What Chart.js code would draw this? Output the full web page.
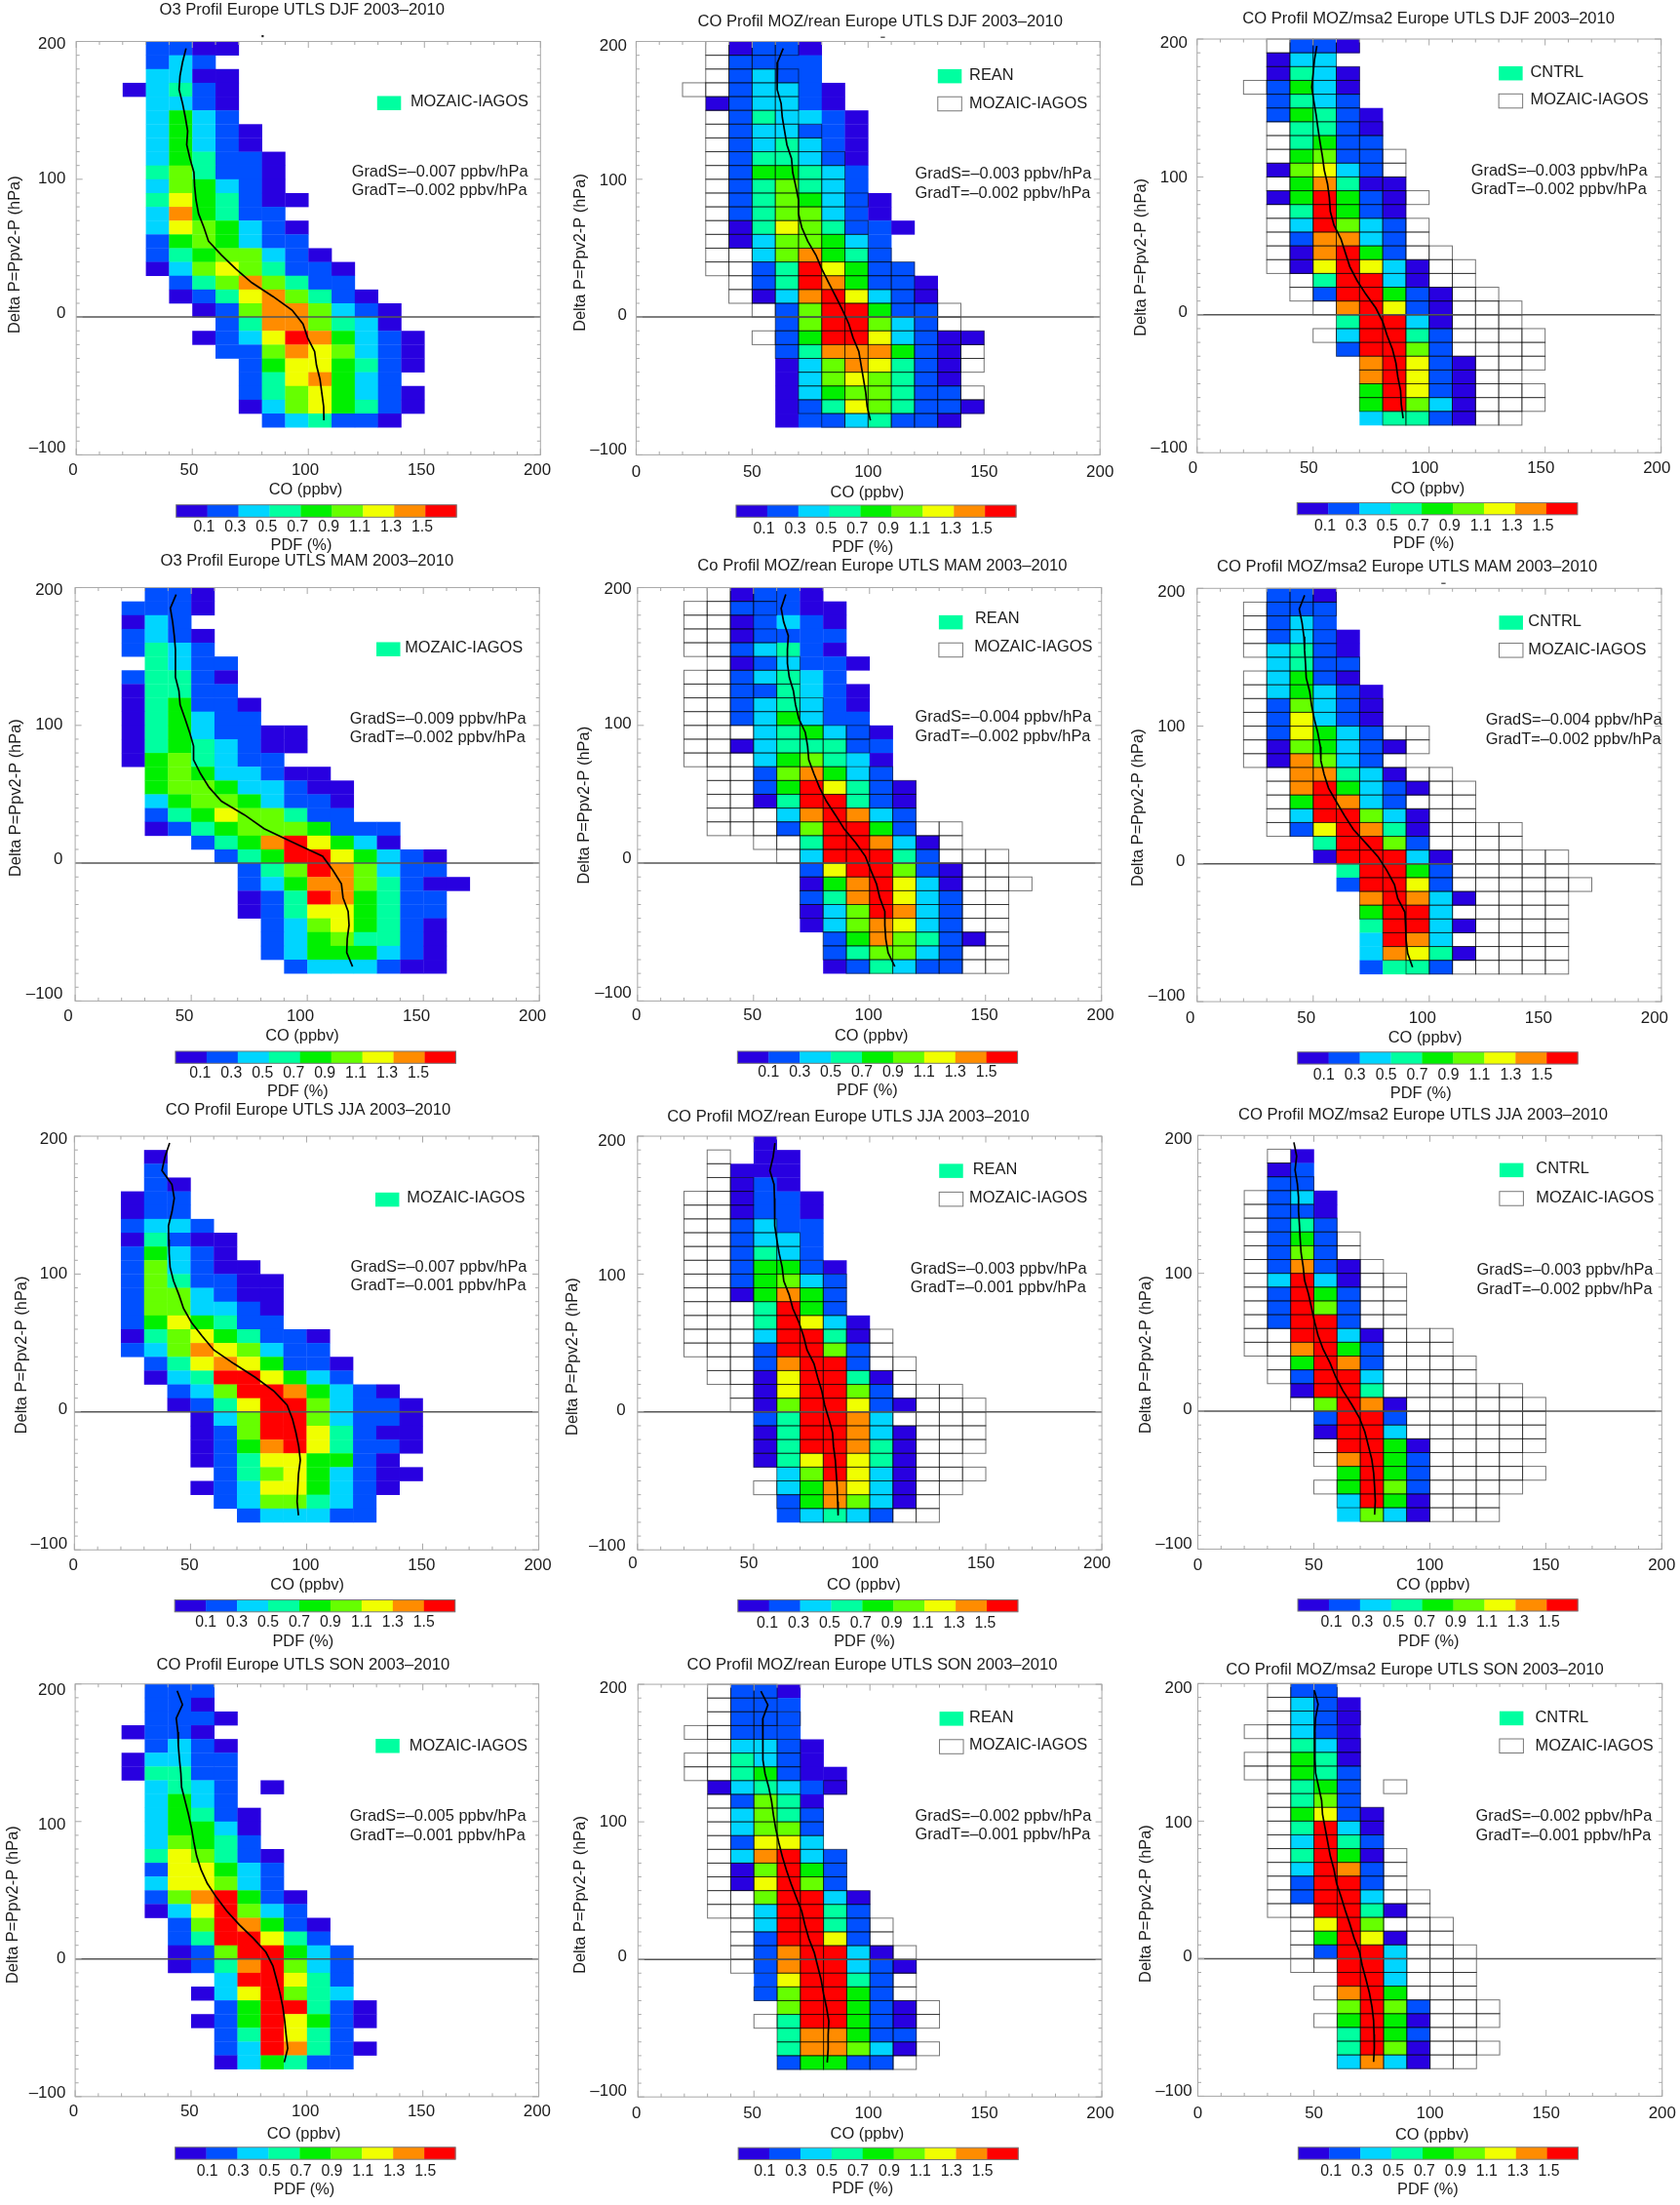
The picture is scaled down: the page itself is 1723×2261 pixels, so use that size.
<!DOCTYPE html>
<html>
<head>
<meta charset="utf-8">
<title>CO profiles Europe UTLS</title>
<script src="https://cdn.jsdelivr.net/npm/chart.js@4"></script>
<style>
  html, body { margin: 0; padding: 0; background: #fff; }
  #page { position: relative; width: 1723px; height: 2261px; overflow: hidden; }
  canvas { position: absolute; }
</style>
</head>
<body>
<div id="page"></div>
<script>
// Lower edge of each row is top - 10 hPa. First char of a row string is the 20-30 ppbv bin.
const rowTops = [200,190,180,170,160,150,140,130,120,110,100,90,80,70,60,50,40,30,20,10,0,-10,-20,-30,-40,-50,-60,-70];
const binLefts = [20,30,40,50,60,70,80,90,100,110,120,130,140,150,160];
const curveLevels = [195,185,175,165,155,145,135,125,115,105,95,85,75,65,55,45,35,25,15,5,-5,-15,-25,-35,-45,-55,-65,-75];

// Cell digit: colour class 1..9 of the PDF colour bar, '.' = no cell
const djfObsRows = [".2211",".232",".3311","13421",".3321",".3532",".35321",".35321",".354221",".464221",".365321",".4754211",".385422",".3765321",".2565322",".24566321",".136764221","..24686422","..124786421","...126886321","....24886431","...1237985321","....226876321",".....25775421",".....2478532",".....24675321",".....13675421","......234221"];
const djfReanRows = ["..1221","..2222","..2322","..23321",".123321","..243321","..233221","..234321","..244321","..255432","..246432","..2465321","..2466321","..14764221","..1366532","...368542","...2497522","...24985221","...13897321","....2699522","....2699632","....259973211","....24888521","....13687421","....13676421","....13566422","....124764221","....12234221"];
const djfMsaRows = ["..221",".133",".1431",".2531",".2432",".25421","..4421","..4522","..5622",".16732","..58411",".159521","..49521","..39632","..28832","..18952","..179731","...49931","...299521","....89721","....49931","....39942","....29962",".....89721",".....89721",".....59721",".....59631",".....34421"];
const mamObsRows = [".221","2221","132","2321","2432",".4322","24421","14422","145221","145322","14532211","14543211","1564322",".56533211",".566533211",".356653221",".245766422",".12456665222","...245897531","....2459975321",".....246986322",".....2358864211",".....124985422",".....124775422","......23675421","......23564421","......23555321",".......2333211"];
const mamReanRows = ["..1221","..22211","..12321","..12222","..23421","..123221","..23432","..224321","..234321","..235322","...345321","..1344422","...356431","...268532","...2597421","...1499421","....389832","....269952",".....499831",".....399942",".....2799621",".....1589731",".....2489732",".....1369832",".....1368732","......2586421","......246632","......124322"];
const mamMsaRows = [".221",".222",".232",".2321",".3421",".3422",".3521",".35321",".26321",".27321",".27532",".165321",".18632","..88431","..895321","..59832","..399631","..279841","...49962","...199931","....49952","....29972",".....89831",".....5993",".....49931",".....3983",".....38741",".....2442"];
const jjaObsRows = ["",".1",".2",".21","122","122","2332","14211","25321","263211","2642211","2663211","2663321","2575422","146754221","236876322",".247875221",".134997532","..2369985321","..12479963221","...1369963221","...1269974211","...1258974221","...124775521","....246753211","...123775321","....2366432",".....233322"];
const jjaReanRows = ["...1","...11","..111","..121","..1221","..1221","..2322","..2332","..2432","..25521","..25632","..15852","...4952","...49731","...39941","...29962","...28992","...179941","...179962","...1699721","...249983","...1499831","...1499841","...1479741","....369731","....358731","....258631","....23432"];
const jjaMsaRows = ["","..1",".12",".22",".231",".221",".242",".252",".262",".2821",".3931",".2952",".2962",".2992","..9931","..8952","..5982","..2993","..1994","...6981","...2992","...1993","....9951","....8952","....5952","....5962","....3951","....3631"];
const sonObsRows = [".222",".221",".2221","1221",".2321","13322","14422",".3432.1",".3532",".35421",".35531",".36542",".476421",".277532",".377632",".2689521",".1379632","..2698521","..2499742","..12699532","..12489632","....399742","...1379643","....2599421","...12597521","....249742","....2398421","....135422"];
const sonReanRows = ["..221","..222","..222","..222","..3321","..4321","..45211",".134321","..2641","..3642","..3662","..2773","..38932","..16952","..17962","...69931","...39942","...39942","...29972","...289931","...2899321","...279942","...269952","....699521","....499521","....488522","....488631","....25522"];
const sonMsaRows = ["..22","..321","..321","..321","..431","..541","..542","..452","..462","..5721","..4931","..3942","..4951","..3982","..2992","..2993","...9941","...796","...5971","...2993","....993","....993","....895","....6962","....5951","....4952","....4961","....3831"];

// Mean CO (ppbv) at curveLevels
const djfObsCurve = [47.3,45.8,44.7,44.3,45.8,47,48,47.6,49,50.7,51,51.6,52.7,55,57,62.6,68.7,75.6,84.7,93,97.7,99.7,102.7,103.5,105,105.8,106.6,106.7];
const djfReanCurve = [63.4,61,60.8,60.8,62.5,63,64,65,67,67.5,68.8,70,70,71.4,74,77.5,80,83,86,89,91.7,93.5,96,97,98,99,99.6,101];
const djfMsaCurve = [51.6,50.6,50,49.4,50.3,51.3,52.1,53,54,54.8,56.2,57,57.4,59,62,63.9,65.8,68.9,72.7,77,80,81.9,84.2,85.7,86.5,87.7,88,88.8];
const mamObsCurve = [43.5,41,42,42.7,43.2,43.2,43.2,44.7,45.2,47.3,49.3,51,51,54,57.7,63,73,81.4,94,106.6,111,114.7,115.4,117.6,118,117.2,117,119.5];
const mamReanCurve = [63.9,61.9,63,65,64.6,64.6,65.4,67.2,68.1,69.5,72.3,73.3,73.8,76,78.4,81.4,85.3,89,94,98.2,100.5,103,104.4,106.6,106.6,107,108,110.9];
const mamMsaCurve = [46.3,44,45.2,46,46.3,46.7,47,48.5,49.3,50.5,52,53.1,53.3,54.7,56.6,60,63.5,67.3,72.7,78,81.8,85,86.4,89.5,89.8,90,90.7,92.8];
const jjaObsCurve = [41,39,37.7,42,43,42,40.5,40.6,40.8,41.2,42.7,45,47,50.4,55,60,68.7,78,86,91.6,93.9,95.4,96.6,97.3,96.5,96.2,95.9,96.5];
const jjaReanCurve = [59.2,58.4,57,58.8,59,59,59.2,60,61,62.3,63,65.3,66.9,69.5,71.5,73,76,77.6,79.4,80.6,82.4,84,84.4,85.2,85.6,86,86.2,86.4];
const jjaMsaCurve = [41.4,42.6,41.9,42.9,43.4,43.4,43.8,44.1,44.5,45.4,46,47.7,49,50.3,51.8,54,57,59.4,62.5,66.3,69.7,72,73.5,75,75.8,76.2,76.5,76.2];
const sonObsCurve = [44,46.3,43.6,44.3,44.5,45,45.6,45.9,47.4,48.9,50.2,51.2,52.4,54.3,57,60.9,65.4,70.8,76.9,82.3,85.3,86.9,88.4,89.6,90.4,91,91.7,90.2];
const sonReanCurve = [53,56,53.8,53.8,53.8,54,54.8,56.4,57.6,58.4,59.4,60.7,62.2,64,66,68.3,70.6,72,73.7,76,77.5,79,80,81.3,82.3,82,82,81.6];
const sonMsaCurve = [50.2,51.8,50.7,50.4,50.4,50.5,50.7,52,53.3,53.7,54.8,55.9,57,58.6,59.7,61.7,63.5,65.5,67.3,69.6,70.8,72.4,73.9,75,75.7,75.9,76,75.7];

const panelTitles = [
  "O3 Profil Europe UTLS DJF 2003–2010", "CO Profil MOZ/rean Europe UTLS DJF 2003–2010", "CO Profil MOZ/msa2 Europe UTLS DJF 2003–2010",
  "O3 Profil Europe UTLS MAM 2003–2010", "Co Profil MOZ/rean Europe UTLS MAM 2003–2010", "CO Profil MOZ/msa2 Europe UTLS MAM 2003–2010",
  "CO Profil Europe UTLS JJA 2003–2010", "CO Profil MOZ/rean Europe UTLS JJA 2003–2010", "CO Profil MOZ/msa2 Europe UTLS JJA 2003–2010",
  "CO Profil Europe UTLS SON 2003–2010", "CO Profil MOZ/rean Europe UTLS SON 2003–2010", "CO Profil MOZ/msa2 Europe UTLS SON 2003–2010"
];
const gradS = ["–0.007","–0.003","–0.003","–0.009","–0.004","–0.004","–0.007","–0.003","–0.003","–0.005","–0.002","–0.002"];
const gradT = ["–0.002","–0.002","–0.002","–0.002","–0.002","–0.002","–0.001","–0.001","–0.002","–0.001","–0.001","–0.001"];
const xTickValues = [0,50,100,150,200];
const yTickValues = [200,100,0,-100];
const pdfTickLabels = ["0.1","0.3","0.5","0.7","0.9","1.1","1.3","1.5"];
const pdfColors = ["#2800e0","#0050ff","#00d5ff","#00ffa0","#00f000","#66ff00","#f0ff00","#ff8c00","#ff0000"];

const cellRows = [djfObsRows,djfReanRows,djfMsaRows,mamObsRows,mamReanRows,mamMsaRows,jjaObsRows,jjaReanRows,jjaMsaRows,sonObsRows,sonReanRows,sonMsaRows];
const curves = [djfObsCurve,djfReanCurve,djfMsaCurve,mamObsCurve,mamReanCurve,mamMsaCurve,jjaObsCurve,jjaReanCurve,jjaMsaCurve,sonObsCurve,sonReanCurve,sonMsaCurve];
const modelNames = [null,"REAN","CNTRL"];

// Panel layout as measured, all inner numbers get multiplied by S below
const S = 1.0905;
const panelBoxes = [
  {ox:0,oy:0,plot:[71.7,39,508.3,427.7],title:[284,10],yTitle:[14,239.5],xTitle:[287.5,460.7],pdf:[283.3,512.7],bar:[165.7,429.3,474.7,486.3],barY:495.7,barDx:-3,xTickY:442.3,xTickDx:-3,yTickR:61.7,yTickDy:-3.7,swatch:[354.7,90.3],name:[386,96],grad:[330.7,161.7,179.3],speck:[246,33,2,2]},
  {ox:575,oy:0,plot:[71,39,507.3,427.7],title:[300.5,21],yTitle:[18.7,237.5],xTitle:[288.3,463.3],pdf:[284,514.7],bar:[165,428.3,475,486.3],barY:497.3,barDx:-3,xTickY:444,xTickDx:0,yTickR:62.3,yTickDy:-1.7,swatch:[354.7,65],name:[384.3,70.7],swatch2:91,moz:[384.3,97.3],grad:[333.3,163.3,181.7],speck:[301,34.5,4,1]},
  {ox:1150,oy:0,plot:[71.3,36.7,507.7,425.7],title:[289,18],yTitle:[19,242],xTitle:[288.3,460],pdf:[284.3,511.3],bar:[165.3,429,472.7,484],barY:494.7,barDx:-3,xTickY:440.7,xTickDx:-4,yTickR:62.3,yTickDy:-2,swatch:[355,62.3],name:[384.7,68.3],swatch2:88.3,moz:[384.7,94],grad:[329,161,178.3]},
  {ox:0,oy:560,plot:[70.7,39,507.3,427.7],title:[288.7,14],yTitle:[14.7,236.7],xTitle:[284.3,460.7],pdf:[280,512.7],bar:[165,428.7,475,486.3],barY:495.7,barDx:-6,xTickY:442.3,xTickDx:-6.5,yTickR:59,yTickDy:-3.5,swatch:[354,90.3],name:[380.7,96],grad:[329,162.7,180.3]},
  {ox:575,oy:560,plot:[72.3,39,508.7,427.7],title:[302.5,18.7],yTitle:[22.7,243.7],xTitle:[292.3,460.7],pdf:[288.3,512.3],bar:[166.3,429.7,475,486.3],barY:494.7,barDx:0,xTickY:441.3,xTickDx:-1,yTickR:66.7,yTickDy:-4.2,swatch:[355.7,65],name:[389.7,68.3],swatch2:91,moz:[389,95],grad:[333.3,161,179.3]},
  {ox:1150,oy:560,plot:[71.3,39.7,508,428.3],title:[268.8,20],yTitle:[15.7,246],xTitle:[285.7,462.7],pdf:[281.7,514.7],bar:[165.7,429.3,475.7,487],barY:497.3,barDx:-4.5,xTickY:444.3,xTickDx:-6.5,yTickR:60,yTickDy:-2.5,swatch:[355.3,65.3],name:[382.7,70.7],swatch2:91.3,moz:[382.7,97.3],grad:[342.7,163.3,181.7],speck:[301,34.5,4,1]},
  {ox:0,oy:1125,plot:[70,36.7,506.7,425.7],title:[289.7,12],yTitle:[20.7,242.5],xTitle:[289,459.3],pdf:[285,511.7],bar:[164.3,428,472.7,484],barY:494,barDx:0,xTickY:440.7,xTickDx:-1,yTickR:63.3,yTickDy:-2.7,swatch:[353,89.7],name:[382.7,95],grad:[329.7,160,177.3]},
  {ox:575,oy:1125,plot:[72.3,36.7,509,425.7],title:[270.5,18.3],yTitle:[11.7,244],xTitle:[285,459.3],pdf:[285.7,511.7],bar:[166.7,430,472.7,484],barY:494.7,barDx:-1.5,xTickY:439,xTickDx:-4.5,yTickR:61,yTickDy:-1,swatch:[356,62.7],name:[387.7,68.7],swatch2:89.3,moz:[384.3,95],grad:[329,161.7,179.3]},
  {ox:1150,oy:1125,plot:[72,36,508.3,425],title:[283.8,16.7],yTitle:[23.3,242.3],xTitle:[293.3,459.3],pdf:[289,511.7],bar:[166,429.3,472,483.3],barY:493.7,barDx:2.3,xTickY:440.7,xTickDx:0,yTickR:66.7,yTickDy:-2,swatch:[355.7,62],name:[390,67.7],swatch2:88.7,moz:[390,95],grad:[334.3,162.3,181]},
  {ox:0,oy:1690,plot:[70.7,33.7,506.7,421.7],title:[285,15.7],yTitle:[12,241.3],xTitle:[285.7,457.3],pdf:[286,509.3],bar:[164.7,428.3,469.3,480.7],barY:492.3,barDx:1,xTickY:436,xTickDx:-1.5,yTickR:61.7,yTickDy:0,swatch:[353.3,85.3],name:[385,91.7],grad:[329,158,176.7]},
  {ox:575,oy:1690,plot:[72.7,34,509,422],title:[293,15.7],yTitle:[19,232],xTitle:[288.3,457.3],pdf:[284,508.3],bar:[167,430.3,469.7,481],barY:492,barDx:-4.3,xTickY:437.3,xTickDx:-1.5,yTickR:62.3,yTickDy:-2.3,swatch:[356.3,59.7],name:[384.3,65.3],swatch2:86,moz:[384.3,91],grad:[333.3,158,175.7]},
  {ox:1150,oy:1690,plot:[72,33.3,508.7,421.3],title:[276,21],yTitle:[23.3,240.3],xTitle:[292.3,458.3],pdf:[288.3,509.3],bar:[166.3,429.7,469.3,480.7],barY:492,barDx:1.7,xTickY:438,xTickDx:0,yTickR:66.7,yTickDy:-1.5,swatch:[355.7,59.3],name:[389.3,65.3],swatch2:85.3,moz:[389.3,91.7],grad:[333.3,158,176.7]}
];
panelBoxes.forEach((box) => {
  Object.keys(box).forEach((k) => {
    if (k === "ox" || k === "oy") return;
    box[k] = Array.isArray(box[k]) ? box[k].map((v) => v * S) : box[k] * S;
  });
});

const FONT = '"Liberation Sans", Arial, sans-serif';
const TEXT_COLOR = "#1c1c1c";
const CANVAS_W = 573, CANVAS_H = 572;

// Turn the row strings into {x, y, level} cells, x = left edge and y = top edge of the cell
function rowsToCells(rows) {
  const cells = [];
  rows.forEach((row, r) => {
    [...row].forEach((ch, b) => {
      if (ch !== ".") cells.push({ x: binLefts[b], y: rowTops[r], level: +ch });
    });
  });
  return cells;
}

function text(ctx, str, x, y, size, align) {
  ctx.font = size + "px " + FONT;
  ctx.fillStyle = TEXT_COLOR;
  ctx.textAlign = align || "left";
  ctx.textBaseline = "middle";
  ctx.fillText(str, x, y);
}

// Cells, footprint grid and zero line go under the mean curve
const cellPlugin = {
  id: "cells",
  beforeDatasetsDraw(chart) {
    const { ctx, scales: { x, y } } = chart;
    chart.data.datasets[0].data.forEach((c) => {
      const x0 = x.getPixelForValue(c.x), x1 = x.getPixelForValue(c.x + 10);
      const y0 = y.getPixelForValue(c.y), y1 = y.getPixelForValue(c.y - 10);
      ctx.fillStyle = pdfColors[c.level - 1];
      // small overlap so the antialiased seams stay faint
      ctx.fillRect(x0, y0, x1 - x0 + 0.3, y1 - y0 + 0.3);
    });
    ctx.strokeStyle = "rgba(0,0,0,0.55)";
    ctx.lineWidth = 1;
    chart.data.datasets[1].data.forEach((c) => {
      const x0 = x.getPixelForValue(c.x), x1 = x.getPixelForValue(c.x + 10);
      const y0 = y.getPixelForValue(c.y), y1 = y.getPixelForValue(c.y - 10);
      ctx.strokeRect(x0, y0, x1 - x0, y1 - y0);
    });
    ctx.strokeStyle = "#555";
    ctx.lineWidth = 1.5;
    ctx.beginPath();
    ctx.moveTo(x.left, y.getPixelForValue(0));
    ctx.lineTo(x.right, y.getPixelForValue(0));
    ctx.stroke();
  }
};

// IDL style frame with inward ticks, plus all the panel text, legend and colour bar
const framePlugin = {
  id: "frame",
  afterDraw(chart, args, opts) {
    const { ctx, scales: { x, y } } = chart;
    const box = opts.box;
    ctx.save();

    ctx.strokeStyle = "#a8a8a8";
    ctx.lineWidth = 1;
    ctx.strokeRect(x.left, y.top, x.right - x.left, y.bottom - y.top);
    ctx.beginPath();
    x.ticks.forEach((t) => {
      const px = x.getPixelForValue(t.value);
      const len = t.value % 50 === 0 ? 6.5 : 3.5;
      ctx.moveTo(px, y.top); ctx.lineTo(px, y.top + len);
      ctx.moveTo(px, y.bottom); ctx.lineTo(px, y.bottom - len);
    });
    y.ticks.forEach((t) => {
      const py = y.getPixelForValue(t.value);
      const len = t.value % 100 === 0 ? 6.5 : 3.5;
      ctx.moveTo(x.left, py); ctx.lineTo(x.left + len, py);
      ctx.moveTo(x.right, py); ctx.lineTo(x.right - len, py);
    });
    ctx.stroke();

    xTickValues.forEach((v) => text(ctx, String(v), x.getPixelForValue(v) + box.xTickDx, box.xTickY, 16.9, "center"));
    yTickValues.forEach((v) => {
      const label = v < 0 ? "–" + (-v) : String(v);
      // the printed labels drift slightly against the ticks, about 3 px per 100 hPa
      text(ctx, label, box.yTickR, y.getPixelForValue(v) + box.yTickDy + 3.2 * v / 100, 16.9, "right");
    });

    text(ctx, opts.title, box.title[0], box.title[1], 16.6, "center");
    text(ctx, "CO (ppbv)", box.xTitle[0], box.xTitle[1], 16.4, "center");
    ctx.save();
    ctx.translate(box.yTitle[0], box.yTitle[1]);
    ctx.rotate(-Math.PI / 2);
    text(ctx, "Delta P=Ppv2-P (hPa)", 0, 0, 16.4, "center");
    ctx.restore();

    // legend
    ctx.fillStyle = pdfColors[3];
    ctx.fillRect(box.swatch[0], box.swatch[1], 24.5, 14.5);
    text(ctx, opts.name, box.name[0], box.name[1], 16.4);
    if (box.moz) {
      ctx.strokeStyle = "#777";
      ctx.strokeRect(box.swatch[0], box.swatch2, 24.5, 14.5);
      text(ctx, "MOZAIC-IAGOS", box.moz[0], box.moz[1], 16.4);
    }
    text(ctx, "GradS=" + opts.gradS + " ppbv/hPa", box.grad[0], box.grad[1], 16.4);
    text(ctx, "GradT=" + opts.gradT + " ppbv/hPa", box.grad[0], box.grad[2], 16.4);

    // colour bar
    const [bl, br, bt, bb] = box.bar;
    const bw = (br - bl) / pdfColors.length;
    pdfColors.forEach((col, i) => {
      ctx.fillStyle = col;
      ctx.fillRect(bl + i * bw, bt, bw + 0.3, bb - bt);
    });
    ctx.strokeStyle = "#777";
    ctx.strokeRect(bl, bt, br - bl, bb - bt);
    pdfTickLabels.forEach((lab, i) => text(ctx, lab, bl + (i + 1) * bw + box.barDx, box.barY, 15.8, "center"));
    text(ctx, "PDF (%)", box.pdf[0], box.pdf[1], 16.4, "center");

    if (box.speck) {
      ctx.fillStyle = "#222";
      ctx.fillRect(box.speck[0], box.speck[1], box.speck[2], box.speck[3]);
    }
    ctx.restore();
  }
};

const page = document.getElementById("page");
panelBoxes.forEach((box, i) => {
  const canvas = document.createElement("canvas");
  canvas.style.left = box.ox + "px";
  canvas.style.top = box.oy + "px";
  canvas.style.width = CANVAS_W + "px";
  canvas.style.height = CANVAS_H + "px";
  canvas.width = CANVAS_W;
  canvas.height = CANVAS_H;
  page.appendChild(canvas);

  const kind = i % 3; // 0 = observations only, 1 = reanalysis, 2 = model
  const obsRows = cellRows[i - kind];
  const [l, t, r, b] = box.plot;

  new Chart(canvas.getContext("2d"), {
    type: "scatter",
    data: {
      datasets: [
        { label: "cells", data: rowsToCells(cellRows[i]), pointRadius: 0 },
        { label: "MOZAIC-IAGOS grid", data: kind ? rowsToCells(obsRows) : [], pointRadius: 0 },
        {
          label: "mean",
          data: curves[i].map((v, k) => ({ x: v, y: curveLevels[k] })),
          showLine: true,
          borderColor: "#000",
          borderWidth: 1.7,
          pointRadius: 0,
          tension: 0
        }
      ]
    },
    options: {
      responsive: false,
      animation: false,
      devicePixelRatio: 1,
      events: [],
      layout: { padding: { left: l, top: t, right: CANVAS_W - r, bottom: CANVAS_H - b } },
      scales: {
        x: {
          type: "linear", min: 0, max: 200,
          ticks: { stepSize: 10, display: false },
          grid: { display: false }, border: { display: false },
          afterFit(scale) { scale.height = 0; }
        },
        y: {
          type: "linear", min: -100, max: 200,
          ticks: { stepSize: 10, display: false },
          grid: { display: false }, border: { display: false },
          afterFit(scale) { scale.width = 0; }
        }
      },
      plugins: {
        legend: { display: false },
        tooltip: { enabled: false },
        frame: { box, title: panelTitles[i], name: modelNames[kind] || "MOZAIC-IAGOS", gradS: gradS[i], gradT: gradT[i] }
      }
    },
    plugins: [cellPlugin, framePlugin]
  });
});
</script>
</body>
</html>
